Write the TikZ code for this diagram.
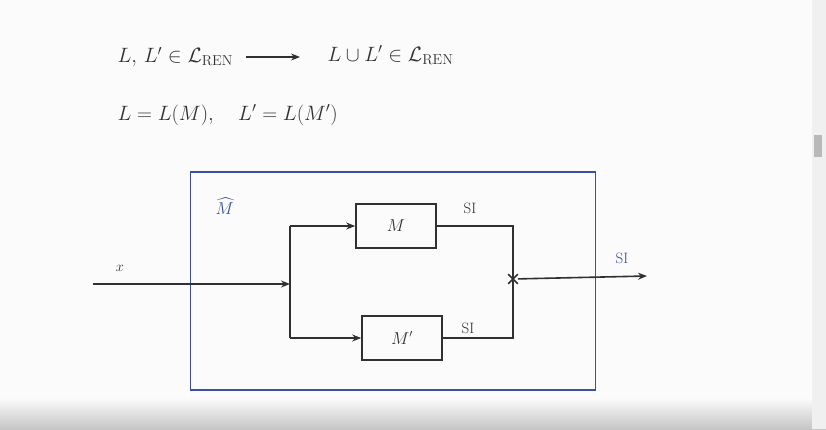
\documentclass[tikz,border=0pt]{standalone}
\usepackage{amsmath,amssymb}
\usetikzlibrary{arrows.meta,positioning,calc,shapes.misc}
\definecolor{pen}{HTML}{303030}
\definecolor{ink}{HTML}{3B4DA6}
\begin{document}
\begin{tikzpicture}[x=1pt, y=-1pt,
    machine/.style={draw=pen, line width=1.6pt, minimum width=80pt, minimum height=44pt, font=\fontsize{16}{18}\selectfont, text=pen},
    wire/.style={pen, line width=1.6pt},
    arr/.style={-{Stealth[length=9pt,width=7pt]}, pen, line width=1.6pt},
    lbl/.style={font=\fontsize{15}{17}\selectfont, text=pen},
    formula/.style={anchor=west, font=\fontsize{21}{24}\selectfont, text=pen}
]
\useasboundingbox (0,0) rectangle (826,429);
\fill[white!97!gray] (0,0) rectangle (826,429);
\shade[top color=white!97!gray, bottom color=gray!45] (0,398) rectangle (826,429);
\fill[gray!12] (812,0) rectangle (826,429);
\fill[gray!55] (814,135) rectangle (822,157);

\node[formula] (premise) at (114,57) {$L,\, L' \in \mathcal{L}_{\mathrm{REN}}$};
\node[formula] (concl) at (324,55) {$L \cup L' \in \mathcal{L}_{\mathrm{REN}}$};
\draw[arr, line width=1.2pt, shorten >=24pt, shorten <=10pt] (premise.east) -- (concl.west |- premise.east);
\node[formula] (defs) at (114,115) {$L = L(M),\quad L' = L(M')$};

\node[draw=ink, line width=1.6pt, minimum width=405pt, minimum height=218pt] (mhat) at (393,281) {};
\node[font=\fontsize{17}{19}\selectfont, text=ink, anchor=north west] (mhatlbl) at (212,194) {$\widehat{M}$};
\node[machine] (m) at (396,226) {$M$};
\node[machine] (mp) at (402,338) {$M'$};

\coordinate (xin) at (93,284);
\coordinate (split) at (290,284);
\coordinate (join) at (513,279);
\coordinate (yout) at (647,276);

\draw[arr] (xin) -- (split);
\draw[wire] (split |- m.west) -- (split |- mp.west);
\draw[arr] (split |- m.west) -- (m.west);
\draw[arr] (split |- mp.west) -- (mp.west);
\draw[wire] (m.east) -| (join);
\draw[wire] (mp.east) -| (join);
\node[draw=pen, cross out, line width=1.6pt, minimum size=8pt, inner sep=0pt] (junc) at (join) {};
\draw[arr] (junc) -- (yout);

\node[lbl] (xlbl) at (120,268) {$x$};
\node[lbl] (silbl1) at (470,208) {SI};
\node[lbl] (silbl2) at (468,328) {SI};
\node[lbl, text=ink] (silbl3) at (622,258) {SI};
\end{tikzpicture}
\end{document}
